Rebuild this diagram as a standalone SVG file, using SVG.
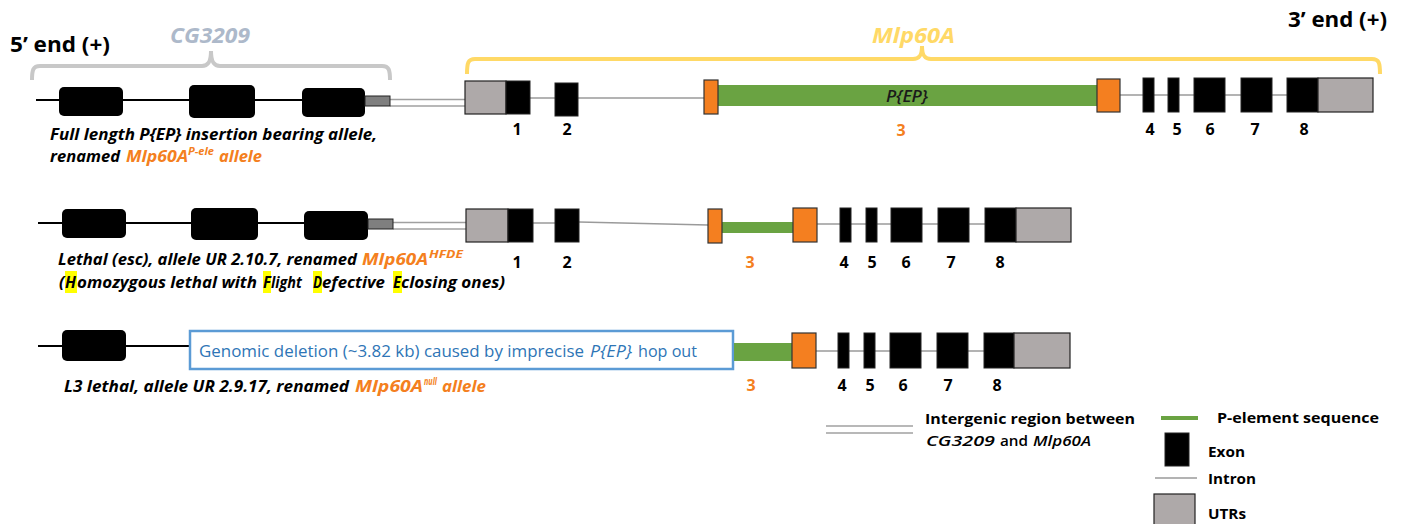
<svg xmlns="http://www.w3.org/2000/svg" width="1402" height="524" viewBox="0 0 1402 524">
  <style>
    text { font-family: 'Open Sans', 'Noto Sans', 'DejaVu Sans', sans-serif; }
    .b { font-weight: 700; }
    .bi { font-weight: 700; font-style: italic; }
    .num { font-size: 16px; font-weight: 700; text-anchor: middle; fill: #000; }
    .org { fill: #F47F20; }
    .exon { fill: #000; stroke: #222; stroke-width: 1; }
    .cgexon { fill: #000; }
    .utr { fill: #AEA9A9; stroke: #222; stroke-width: 1.2; }
    .cgutr { fill: #7F7F7F; stroke: #222; stroke-width: 1; }
    .ins { fill: #F47F20; stroke: #333; stroke-width: 1.2; }
    .pel { fill: #6AA342; }
    .cgintron { stroke: #000; stroke-width: 2; fill: none; }
    .intron { stroke: #9A9A9A; stroke-width: 1.5; fill: none; }
    .inter { stroke: #A0A0A0; stroke-width: 1.3; fill: none; }
    .hl { fill: #FFFF00; }
    .lab { font-size: 16.5px; }
    .sup { font-size: 11px; }
    .leg { font-size: 15px; }
  </style>

  <!-- ends of the locus -->
  <text class="b" x="10" y="52" font-size="22" textLength="100" lengthAdjust="spacingAndGlyphs">5’ end (+)</text>
  <text class="b" x="1288" y="27" font-size="22" textLength="99" lengthAdjust="spacingAndGlyphs">3’ end (+)</text>

  <!-- gene braces -->
  <g id="brace-cg3209">
    <path d="M32,80 C32,70 33,66 40,66 L202,66 C208,66 211,62 211,51 C211,62 214,66 220,66 L382,66 C389,66 390,70 390,80" fill="none" stroke="#C8C8C8" stroke-width="4"/>
    <text class="bi" x="170" y="43" font-size="21" fill="#ADB9CA" textLength="80" lengthAdjust="spacingAndGlyphs">CG3209</text>
  </g>
  <g id="brace-mlp60a">
    <path d="M467,74 C467,63 468,59 475,59 L913,59 C919,59 922,56 922,46 C922,56 925,59 931,59 L1372,59 C1379,59 1380,63 1380,74" fill="none" stroke="#FFD966" stroke-width="4"/>
    <text class="bi" x="872" y="43" font-size="21" fill="#FFD966" textLength="83" lengthAdjust="spacingAndGlyphs">Mlp60A</text>
  </g>

  <!-- connectors: introns and intergenic region -->
  <g id="connectors">
    <!-- allele 1 -->
    <line class="cgintron" x1="36" y1="100" x2="302" y2="100"/>
    <line class="inter" x1="390" y1="99.5" x2="470" y2="99.5"/>
    <line class="inter" x1="390" y1="106" x2="470" y2="106"/>
    <line class="intron" x1="530" y1="98" x2="555" y2="98"/>
    <line class="intron" x1="578" y1="98" x2="704" y2="98"/>
    <line class="intron" x1="1120" y1="95" x2="1287" y2="95"/>
    <!-- allele 2 -->
    <line class="cgintron" x1="38" y1="223" x2="304" y2="223"/>
    <line class="inter" x1="393" y1="222.5" x2="470" y2="222.5"/>
    <line class="inter" x1="393" y1="229" x2="470" y2="229"/>
    <line class="intron" x1="533" y1="223" x2="555" y2="223"/>
    <line class="intron" x1="579" y1="222" x2="708" y2="225"/>
    <line class="intron" x1="817" y1="224" x2="985" y2="224"/>
    <!-- allele 3 -->
    <line class="cgintron" x1="38" y1="346" x2="190" y2="346"/>
    <line class="intron" x1="816" y1="351" x2="984" y2="351"/>
  </g>

  <!-- allele 1: full-length P{EP} insertion -->
  <g id="allele-pele">
    <rect class="cgexon" x="59" y="87" width="64" height="29" rx="5"/>
    <rect class="cgexon" x="189" y="85" width="66" height="33" rx="5"/>
    <rect class="cgexon" x="302" y="88" width="63" height="29" rx="5"/>
    <rect class="cgutr" x="365" y="96" width="25" height="10"/>
    <rect class="utr" x="465" y="81" width="41" height="33"/>
    <rect class="exon" x="506" y="81" width="24" height="33"/>
    <rect class="exon" x="555" y="83" width="23" height="33"/>
    <rect class="pel" x="718" y="85" width="380" height="21"/>
    <rect class="ins" x="704" y="80" width="14" height="34"/>
    <rect class="ins" x="1097" y="79" width="23" height="33"/>
    <text x="886" y="102" font-size="16" font-style="italic" font-weight="600" fill="#1A1A1A" textLength="42" lengthAdjust="spacingAndGlyphs">P{EP}</text>
    <rect class="exon" x="1143" y="78" width="11" height="34"/>
    <rect class="exon" x="1168" y="78" width="11" height="34"/>
    <rect class="exon" x="1194" y="78" width="31" height="34"/>
    <rect class="exon" x="1241" y="78" width="31" height="34"/>
    <rect class="exon" x="1287" y="78" width="31" height="34"/>
    <rect class="utr" x="1318" y="78" width="55" height="34"/>
    <text class="num" x="517" y="135">1</text>
    <text class="num" x="567" y="135">2</text>
    <text class="num org" x="901" y="136">3</text>
    <text class="num" x="1150" y="135">4</text>
    <text class="num" x="1177" y="135">5</text>
    <text class="num" x="1210" y="135">6</text>
    <text class="num" x="1255" y="135">7</text>
    <text class="num" x="1304" y="135">8</text>
    <text class="bi lab" x="50" y="140" textLength="327" lengthAdjust="spacingAndGlyphs">Full length P{EP} insertion bearing allele,</text>
    <text class="bi lab" x="50" y="162" textLength="70" lengthAdjust="spacingAndGlyphs">renamed</text>
    <text class="bi lab org" x="126" y="162" textLength="62" lengthAdjust="spacingAndGlyphs">Mlp60A</text>
    <text class="bi sup org" x="188" y="155" textLength="26" lengthAdjust="spacingAndGlyphs">P-ele</text>
    <text class="bi lab org" x="219" y="162" textLength="43" lengthAdjust="spacingAndGlyphs">allele</text>
  </g>

  <!-- allele 2: UR 2.10.7 -->
  <g id="allele-hfde">
    <rect class="cgexon" x="62" y="209" width="64" height="29" rx="5"/>
    <rect class="cgexon" x="191" y="208" width="67" height="32" rx="5"/>
    <rect class="cgexon" x="304" y="211" width="64" height="29" rx="5"/>
    <rect class="cgutr" x="368" y="219" width="25" height="10"/>
    <rect class="utr" x="466" y="209" width="42" height="33"/>
    <rect class="exon" x="508" y="209" width="25" height="33"/>
    <rect class="exon" x="555" y="209" width="24" height="33"/>
    <rect class="pel" x="721" y="222" width="73" height="11"/>
    <rect class="ins" x="708" y="209" width="14" height="34"/>
    <rect class="ins" x="793" y="208" width="24" height="34"/>
    <rect class="exon" x="840" y="208" width="11" height="34"/>
    <rect class="exon" x="866" y="208" width="11" height="34"/>
    <rect class="exon" x="891" y="208" width="31" height="34"/>
    <rect class="exon" x="938" y="208" width="31" height="34"/>
    <rect class="exon" x="985" y="208" width="31" height="34"/>
    <rect class="utr" x="1016" y="208" width="55" height="34"/>
    <text class="num" x="517" y="268">1</text>
    <text class="num" x="567" y="268">2</text>
    <text class="num org" x="750" y="268">3</text>
    <text class="num" x="844" y="268">4</text>
    <text class="num" x="872" y="268">5</text>
    <text class="num" x="906" y="268">6</text>
    <text class="num" x="951" y="268">7</text>
    <text class="num" x="1000" y="268">8</text>
    <text class="bi lab" x="58" y="265" textLength="299" lengthAdjust="spacingAndGlyphs">Lethal (esc), allele UR 2.10.7, renamed</text>
    <text class="bi lab org" x="362" y="265" textLength="66" lengthAdjust="spacingAndGlyphs">Mlp60A</text>
    <text class="bi sup org" x="429" y="258" textLength="34" lengthAdjust="spacingAndGlyphs">HFDE</text>
    <rect class="hl" x="65" y="271" width="12" height="22"/>
    <rect class="hl" x="263" y="271" width="8" height="22"/>
    <rect class="hl" x="313" y="271" width="9" height="22"/>
    <rect class="hl" x="393" y="271" width="9" height="22"/>
    <text class="bi lab" x="59" y="288">(</text>
    <text class="bi lab" x="65" y="288" textLength="11" lengthAdjust="spacingAndGlyphs">H</text>
    <text class="bi lab" x="77" y="288" textLength="180" lengthAdjust="spacingAndGlyphs">omozygous lethal with</text>
    <text class="bi lab" x="263" y="288" textLength="8" lengthAdjust="spacingAndGlyphs">F</text>
    <text class="bi lab" x="271" y="288" textLength="31" lengthAdjust="spacingAndGlyphs">light</text>
    <text class="bi lab" x="313" y="288" textLength="9" lengthAdjust="spacingAndGlyphs">D</text>
    <text class="bi lab" x="322" y="288" textLength="63" lengthAdjust="spacingAndGlyphs">efective</text>
    <text class="bi lab" x="393" y="288" textLength="8" lengthAdjust="spacingAndGlyphs">E</text>
    <text class="bi lab" x="401" y="288" textLength="104" lengthAdjust="spacingAndGlyphs">closing ones)</text>
  </g>

  <!-- allele 3: UR 2.9.17 deletion -->
  <g id="allele-null">
    <rect class="cgexon" x="62" y="330" width="64" height="31" rx="5"/>
    <rect x="190" y="331" width="543" height="38" fill="#FFFFFF" stroke="#5B9BD5" stroke-width="2.5"/>
    <text x="199" y="357" font-size="17" fill="#2E75B6" textLength="385" lengthAdjust="spacingAndGlyphs">Genomic deletion (~3.82 kb) caused by imprecise</text>
    <text x="590" y="357" font-size="17" font-style="italic" fill="#2E75B6" textLength="42" lengthAdjust="spacingAndGlyphs">P{EP}</text>
    <text x="638" y="357" font-size="17" fill="#2E75B6" textLength="59" lengthAdjust="spacingAndGlyphs">hop out</text>
    <rect class="pel" x="734" y="343" width="58" height="18"/>
    <rect class="ins" x="792" y="333" width="24" height="35"/>
    <rect class="exon" x="838" y="333" width="11" height="35"/>
    <rect class="exon" x="864" y="333" width="11" height="35"/>
    <rect class="exon" x="890" y="333" width="31" height="35"/>
    <rect class="exon" x="937" y="333" width="31" height="35"/>
    <rect class="exon" x="984" y="333" width="30" height="35"/>
    <rect class="utr" x="1014" y="333" width="56" height="35"/>
    <text class="num org" x="751" y="391">3</text>
    <text class="num" x="842" y="391">4</text>
    <text class="num" x="870" y="391">5</text>
    <text class="num" x="903" y="391">6</text>
    <text class="num" x="948" y="391">7</text>
    <text class="num" x="997" y="391">8</text>
    <text class="bi lab" x="64" y="392" textLength="285" lengthAdjust="spacingAndGlyphs">L3 lethal, allele UR 2.9.17, renamed</text>
    <text class="bi lab org" x="355" y="392" textLength="68" lengthAdjust="spacingAndGlyphs">Mlp60A</text>
    <text class="bi sup org" x="424" y="385" textLength="13" lengthAdjust="spacingAndGlyphs">null</text>
    <text class="bi lab org" x="442" y="392" textLength="44" lengthAdjust="spacingAndGlyphs">allele</text>
  </g>

  <!-- key -->
  <g id="legend">
    <line class="inter" x1="826" y1="426" x2="913" y2="426"/>
    <line class="inter" x1="826" y1="433" x2="913" y2="433"/>
    <text class="b leg" x="925" y="424" textLength="210" lengthAdjust="spacingAndGlyphs">Intergenic region between</text>
    <text class="leg" x="926" y="446" font-weight="600" font-style="italic" textLength="69" lengthAdjust="spacingAndGlyphs">CG3209</text>
    <text class="leg" x="1000" y="446" font-weight="600" textLength="28" lengthAdjust="spacingAndGlyphs">and</text>
    <text class="leg" x="1033" y="446" font-weight="600" font-style="italic" textLength="58" lengthAdjust="spacingAndGlyphs">Mlp60A</text>

    <line x1="1161" y1="418" x2="1198" y2="418" stroke="#6AA342" stroke-width="4"/>
    <text class="b leg" x="1217" y="423" textLength="162" lengthAdjust="spacingAndGlyphs">P-element sequence</text>
    <rect class="exon" x="1165" y="433" width="24" height="33"/>
    <text class="b leg" x="1208" y="457" textLength="37" lengthAdjust="spacingAndGlyphs">Exon</text>
    <line x1="1155" y1="478" x2="1197" y2="478" stroke="#9A9A9A" stroke-width="1.5"/>
    <text class="b leg" x="1208" y="484" textLength="48" lengthAdjust="spacingAndGlyphs">Intron</text>
    <rect class="utr" x="1154" y="494" width="41" height="36"/>
    <text class="b leg" x="1208" y="519" textLength="38" lengthAdjust="spacingAndGlyphs">UTRs</text>
  </g>
</svg>
